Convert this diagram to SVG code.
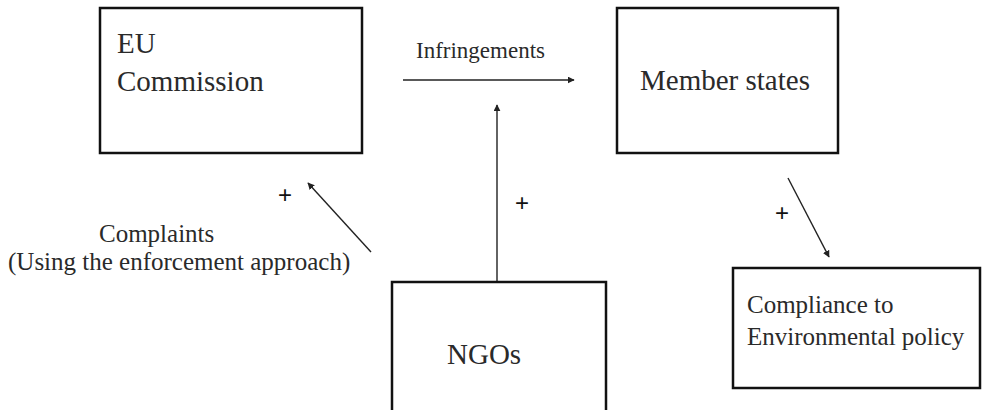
<svg xmlns="http://www.w3.org/2000/svg" width="982" height="410" viewBox="0 0 982 410">
<style>
.box{fill:#fff;stroke:#111;stroke-width:2.5}
.t{font-family:"Liberation Serif","Times New Roman",serif;fill:#2a2a2a}
.p{font-family:"Liberation Sans",Arial,sans-serif;fill:#111;font-size:24px;text-anchor:middle}
.c{stroke:#222;stroke-width:1.4;fill:none}
</style>
<defs>
<marker id="ah" viewBox="0 0 10 10" refX="9" refY="5" markerWidth="7" markerHeight="7" markerUnits="userSpaceOnUse" orient="auto">
<path d="M0,0 L10,5 L0,10 z" fill="#222"/>
</marker>
</defs>
<rect width="982" height="410" fill="#fff"/>
<g id="connectors">
<line class="c" x1="403" y1="80" x2="574" y2="80" marker-end="url(#ah)"/>
<line class="c" x1="497" y1="282" x2="497" y2="105" marker-end="url(#ah)"/>
<line class="c" x1="371" y1="252" x2="308" y2="183" marker-end="url(#ah)"/>
<line class="c" x1="788" y1="178" x2="829" y2="257" marker-end="url(#ah)"/>
<text class="t" x="416" y="58" font-size="23">Infringements</text>
<text class="p" x="522" y="211">+</text>
<text class="p" x="285" y="203">+</text>
<text class="p" x="782" y="221">+</text>
<text class="t" x="99" y="242" font-size="25">Complaints</text>
<text class="t" x="8" y="270" font-size="25">(Using the enforcement approach)</text>
</g>
<g id="eu">
<rect class="box" x="100" y="8" width="262" height="145"/>
<text class="t" x="117" y="53" font-size="29">EU</text>
<text class="t" x="117" y="91" font-size="29">Commission</text>
</g>
<g id="member">
<rect class="box" x="617" y="8" width="221" height="145"/>
<text class="t" x="640" y="90" font-size="29">Member states</text>
</g>
<g id="ngos">
<rect class="box" x="392" y="282" width="214" height="140"/>
<text class="t" x="447" y="364" font-size="29">NGOs</text>
</g>
<g id="compliance">
<rect class="box" x="733" y="268" width="247" height="120"/>
<text class="t" x="747" y="313" font-size="25">Compliance to</text>
<text class="t" x="747" y="345" font-size="25">Environmental policy</text>
</g>
</svg>
